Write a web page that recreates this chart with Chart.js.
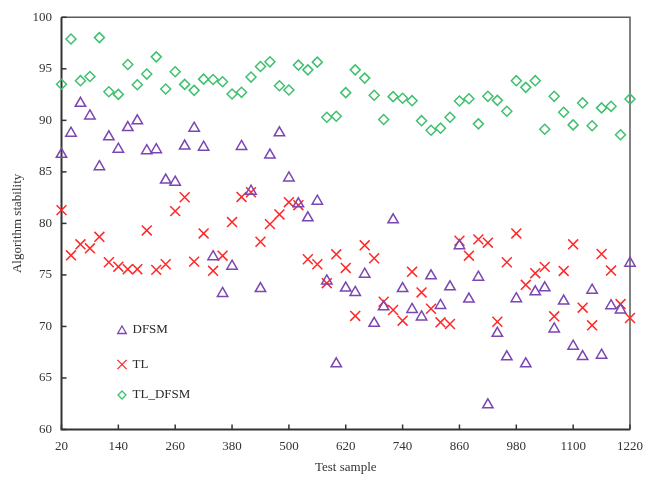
<!DOCTYPE html>
<html><head><meta charset="utf-8">
<script src="https://cdn.jsdelivr.net/npm/chart.js@4/dist/chart.umd.min.js"></script>
<style>html,body{margin:0;padding:0;background:#fff}#wrap{width:652px;height:477px;position:relative}</style>
</head><body><div id="wrap"><canvas id="c" width="652" height="477"></canvas></div>
<script>
const samples = [20,40,60,80,100,120,140,160,180,200,220,240,260,280,300,320,340,360,380,400,420,440,460,480,500,520,540,560,580,600,620,640,660,680,700,720,740,760,780,800,820,840,860,880,900,920,940,960,980,1000,1020,1040,1060,1080,1100,1120,1140,1160,1180,1200,1220];
const dfsm = [86.7,88.75,91.65,90.43,85.5,88.4,87.2,89.3,89.95,87.05,87.15,84.2,84.0,87.5,89.24,87.4,76.77,73.2,75.85,87.47,83.12,73.68,86.63,88.79,84.41,81.9,80.54,82.15,74.42,66.38,73.72,73.3,75.07,70.3,71.91,80.35,73.68,71.65,70.92,74.91,72.04,73.85,77.84,72.66,74.78,62.4,69.33,67.05,72.69,66.38,73.36,73.75,69.76,72.46,68.08,67.08,73.52,67.21,72.01,71.6,76.14];
const tl = [81.29,76.9,77.97,77.58,78.7,76.23,75.8,75.56,75.56,79.32,75.49,76.04,81.19,82.54,76.29,79.03,75.4,76.87,80.13,82.57,83.02,78.22,79.93,80.87,82.06,81.77,76.52,76.04,74.2,77.0,75.68,71.02,77.87,76.62,72.4,71.6,70.56,75.3,73.3,71.72,70.4,70.24,78.32,76.87,78.45,78.13,70.46,76.23,79.03,74.04,75.17,75.78,70.98,75.39,77.97,71.82,70.11,77.03,75.42,72.17,70.82];
const tlDfsm = [93.5,97.9,93.85,94.26,98.03,92.78,92.52,95.42,93.46,94.49,96.16,93.04,94.71,93.49,92.91,94.0,93.96,93.75,92.56,92.72,94.2,95.23,95.68,93.36,92.95,95.36,94.9,95.65,90.3,90.4,92.69,94.9,94.1,92.43,90.08,92.3,92.14,91.91,89.97,89.04,89.24,90.3,91.88,92.1,89.66,92.33,91.94,90.88,93.85,93.2,93.85,89.14,92.33,90.78,89.56,91.69,89.47,91.21,91.36,88.6,92.08];
const xTickLabels = [20,140,260,380,500,620,740,860,980,1100,1220];
const yTickLabels = [60,65,70,75,80,85,90,95,100];
const seriesNames = ['DFSM','TL','TL_DFSM'];
const xTitle = 'Test sample';
const yTitle = 'Algorithm stability';

const COLORS = ['#7a46b2','#ff2828','#3fc06e'];
const FONT = "'Liberation Serif', 'Times New Roman', serif";

function pts(ys){ return samples.map((x,i)=>({x:x,y:ys[i]})); }

const framePlugin = {
  id:'frame',
  beforeDatasetsDraw(chart){
    const {ctx, chartArea:a, scales} = chart;
    ctx.save();
    ctx.strokeStyle='#5a5a5a'; ctx.lineWidth=1.5;
    ctx.beginPath();
    ctx.moveTo(a.left,a.top); ctx.lineTo(a.right,a.top); ctx.lineTo(a.right,a.bottom);
    ctx.stroke();
    ctx.strokeStyle='#333'; ctx.lineWidth=2;
    ctx.beginPath();
    ctx.moveTo(a.left,a.top); ctx.lineTo(a.left,a.bottom); ctx.lineTo(a.right,a.bottom);
    ctx.stroke();
    ctx.lineWidth=1.5;
    xTickLabels.forEach(v=>{const px=scales.x.getPixelForValue(v);
      ctx.beginPath();ctx.moveTo(px,a.bottom);ctx.lineTo(px,a.bottom-5);ctx.stroke();});
    yTickLabels.forEach(v=>{const py=scales.y.getPixelForValue(v);
      ctx.beginPath();ctx.moveTo(a.left,py);ctx.lineTo(a.left+5,py);ctx.stroke();});
    ctx.restore();
  }
};

function marker(ctx, kind, x, y, r){
  ctx.beginPath();
  if(kind==='triangle'){
    ctx.moveTo(x, y-r); ctx.lineTo(x+0.866*r, y+0.5*r); ctx.lineTo(x-0.866*r, y+0.5*r); ctx.closePath();
  } else if(kind==='crossRot'){
    const d=r*0.707;
    ctx.moveTo(x-d,y-d);ctx.lineTo(x+d,y+d);ctx.moveTo(x+d,y-d);ctx.lineTo(x-d,y+d);
  } else {
    ctx.moveTo(x,y-r);ctx.lineTo(x+r,y);ctx.lineTo(x,y+r);ctx.lineTo(x-r,y);ctx.closePath();
  }
  ctx.stroke();
}

const legendPlugin = {
  id:'customLegend',
  afterDraw(chart){
    const ctx=chart.ctx;
    const kinds=['triangle','crossRot','rectRot'];
    const sizes=[5,6.5,4];
    const ys=[330,364.5,395];
    ctx.save();
    ctx.font='13px '+FONT;
    ctx.textBaseline='middle';
    seriesNames.forEach((n,i)=>{
      ctx.strokeStyle=COLORS[i]; ctx.lineWidth=1.3;
      marker(ctx,kinds[i],122,ys[i]+(i===0?1:0),sizes[i]);
      ctx.fillStyle='#2a2a2a';
      ctx.fillText(n,132.5,ys[i]);
    });
    ctx.restore();
  }
};

new Chart(document.getElementById('c'), {
  type:'scatter',
  data:{datasets:[
    {label:seriesNames[0], data:pts(dfsm), pointStyle:'triangle', pointRadius:6, borderColor:COLORS[0], backgroundColor:'rgba(0,0,0,0)', pointBorderWidth:1.5, clip:false},
    {label:seriesNames[1], data:pts(tl), pointStyle:'crossRot', pointRadius:7, borderColor:COLORS[1], backgroundColor:'rgba(0,0,0,0)', pointBorderWidth:1.5, clip:false},
    {label:seriesNames[2], data:pts(tlDfsm), pointStyle:'rectRot', pointRadius:5, borderColor:COLORS[2], backgroundColor:'rgba(0,0,0,0)', pointBorderWidth:1.5, clip:false}
  ]},
  options:{
    responsive:false, animation:false, devicePixelRatio:1,
    layout:{padding:{top:15,right:22,left:0,bottom:0}},
    plugins:{legend:{display:false}, tooltip:{enabled:false}},
    scales:{
      x:{type:'linear', min:20, max:1220,
        afterBuildTicks(s){ s.ticks = xTickLabels.map(v=>({value:v})); },
        afterFit(s){ s.height = 47.5; },
        grid:{display:false, drawTicks:false}, border:{display:false},
        ticks:{color:'#333', padding:9, font:{family:FONT,size:13}, maxRotation:0, autoSkip:false, callback:(v)=>String(v)},
        title:{display:true, text:xTitle, color:'#333', font:{family:FONT,size:13}, padding:{top:0,bottom:2}}
      },
      y:{type:'linear', min:60, max:100,
        afterBuildTicks(s){ s.ticks = yTickLabels.map(v=>({value:v})); },
        afterFit(s){ s.width = 61.5; },
        grid:{display:false, drawTicks:false}, border:{display:false},
        ticks:{color:'#333', padding:9.5, font:{family:FONT,size:13}, callback:(v)=>String(v)},
        title:{display:true, text:yTitle, color:'#333', font:{family:FONT,size:13}, padding:{top:10,bottom:0}}
      }
    }
  },
  plugins:[framePlugin, legendPlugin]
});
</script></body></html>
